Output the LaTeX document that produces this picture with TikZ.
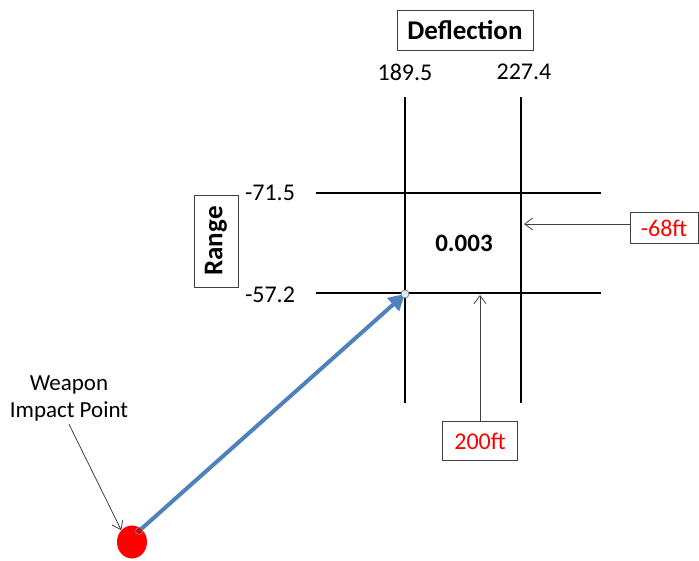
\documentclass[tikz,border=0pt]{standalone}
\usepackage{fontspec}
\setmainfont{Carlito}
\usetikzlibrary{arrows.meta,positioning,shapes.geometric}

\begin{document}
\begin{tikzpicture}[x=1pt,y=-1pt,
    grid line/.style={draw=black,line width=2pt},
    label box/.style={draw=black!75,line width=0.8pt,fill=white,inner sep=0pt},
    value/.style={font=\fontsize{24}{27}\selectfont},
    title/.style={font=\fontsize{27}{30}\selectfont\bfseries},
    pointer/.style={draw=black!75,line width=0.8pt,-{Straight Barb[length=8pt,width=12pt]}},
  ]
  \useasboundingbox (0,0) rectangle (699,561);
  \definecolor{track}{RGB}{79,129,189}
  \definecolor{aimfill}{RGB}{220,238,245}
  % grid of range and deflection lines
  \foreach \x in {405,521}
  \draw[grid line] (\x,97) -- (\x,403);
  \foreach \y in {193,293}
  \draw[grid line] (316,\y) -- (601,\y);
  % axis titles and values
  \node[label box,minimum width=136pt,minimum height=40pt,title] (deflection) at (465,30) {Deflection};
  \node[value] (defl left) at (405,72) {189.5};
  \node[value] (defl right) at (524,72) {227.4};
  \node[label box,rotate=90,minimum width=92pt,minimum height=44pt,title] (range) at (216,241) {Range};
  \node[value] (range top) at (270,193) {-71.5};
  \node[value] (range bottom) at (270,295) {-57.2};
  \node[font=\fontsize{25}{28}\selectfont\bfseries] (prob) at (464,243) {0.003};
  % miss distances
  \coordinate (dy end) at (524,224);
  \coordinate (dx end) at (480,295);
  \node[label box,minimum width=68pt,minimum height=31pt,value,text=red] (dy) at (664,228) {-68ft};
  \node[label box,minimum width=75pt,minimum height=39pt,value,text=red] (dx) at (480,441) {200ft};
  \draw[pointer] ([yshift=4pt]dy.west) -- (dy end);
  \draw[pointer] (dx.north) -- (dx end);
  % impact point and correction
  \coordinate (cross) at (405,294);
  \coordinate (start) at (139,531);
  \draw[track,line width=4pt,-{Triangle[length=16pt,width=17pt]}] (start) -- (cross);
  \node[circle,draw=gray,fill=aimfill,line width=0.8pt,minimum size=8pt,inner sep=0pt] (aim) at (cross) {};
  \node[ellipse,fill=red,minimum width=30pt,minimum height=33pt,inner sep=0pt] (impact) at (132,542) {};
  \node[circle,draw=gray,fill=red!85!black,line width=0.8pt,minimum size=7pt,inner sep=0pt] (launch) at (start) {};
  \node[align=center,font=\fontsize{23}{27}\selectfont] (weapon) at (69,398) {Weapon\\Impact Point};
  \draw[pointer] (weapon.south) -- (impact.north west);
\end{tikzpicture}
\end{document}
